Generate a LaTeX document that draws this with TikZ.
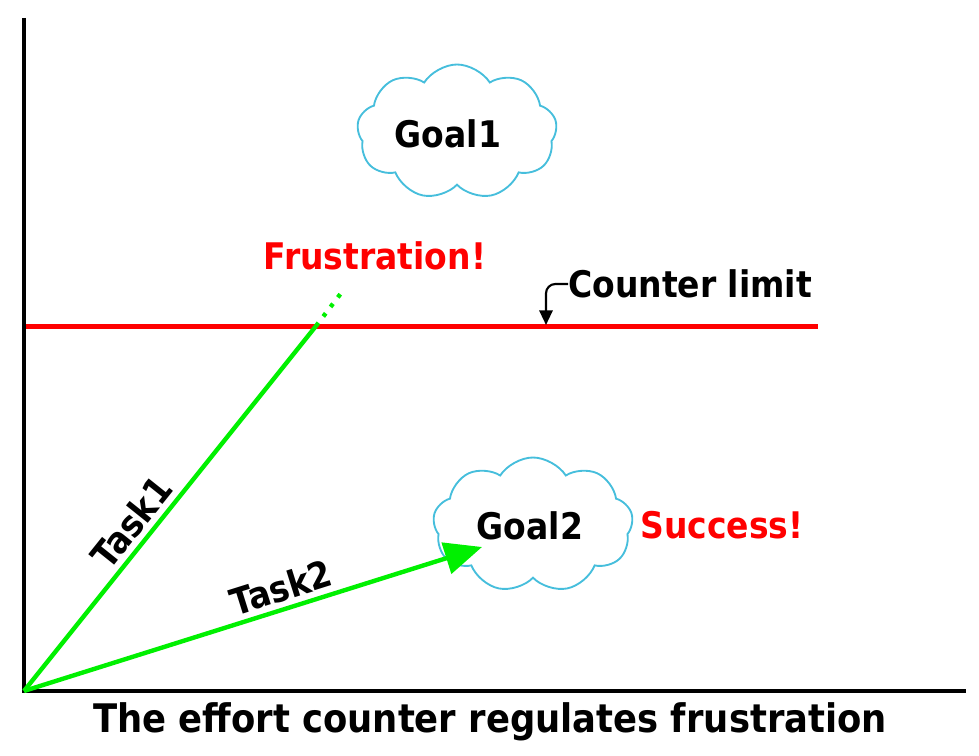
\documentclass[tikz,border=0pt]{standalone}
\usepackage{fontspec}
\setmainfont{DejaVu Sans Condensed}[BoldFont={DejaVu Sans Condensed Bold}]
\usetikzlibrary{shapes.symbols,arrows.meta}
\definecolor{cloudblue}{RGB}{70,190,220}
\definecolor{lgreen}{RGB}{0,240,0}
\definecolor{fred}{RGB}{255,0,0}
\tikzset{
  lbl/.style={inner sep=0pt, font=\bfseries\fontsize{27.5}{32}\selectfont},
  goalcloud/.style={cloud, cloud puffs=9, cloud puff arc=115, aspect=1.5, draw=cloudblue, line width=1.4pt, minimum width=200*0.75pt, minimum height=135*0.75pt, inner sep=0pt},
  task/.style={draw=lgreen, line width=3.3pt},
  axis/.style={draw=black, line width=2.4pt}
}
\begin{document}
\begin{tikzpicture}[x=0.75pt,y=-0.75pt]
\useasboundingbox (0,0) rectangle (979,756);
% axes
\coordinate (O) at (24,691);
\coordinate (ytop) at (24,18);
\coordinate (xend) at (966,691);
\draw[axis] (ytop) -- (O) -- (xend);
% counter limit line
\coordinate (limL) at (26,326.5);
\coordinate (limR) at (818,326.5);
\draw[draw=fred, line width=3.2pt] (limL) -- (limR);
% clouds
\node[goalcloud] (g1c) at (457,132) {};
\node[lbl] (g1) at (448,134) {Goal1};
\node[goalcloud] (g2c) at (533,525) {};
\node[lbl] (g2) at (530,526) {Goal2};
% tasks
\coordinate (t1end) at (316,326);
\coordinate (t1dot) at (345,288);
\draw[task] (O) -- node[lbl, sloped, above, pos=0.425, inner sep=4pt] (task1) {Task1} (t1end);
\draw[draw=lgreen, line width=3.3pt, dash pattern=on 3pt off 6pt] (t1end) -- (t1dot);
\coordinate (t2tip) at (482,547);
\draw[task, -{Triangle[length=28pt,width=24pt]}] (O) -- node[lbl, sloped, above, pos=0.575, inner sep=4pt] (task2) {Task2} (t2tip);
% labels
\node[lbl, text=fred] (frus) at (375,256) {Frustration!};
\node[lbl, text=fred] (succ) at (722,525) {Success!};
\node[lbl, anchor=west] (cl) at (568,284) {Counter limit};
\coordinate (clarr) at (546,325);
\draw[line width=1.6pt, rounded corners=7pt, -{Triangle[length=11pt,width=10pt]}] (cl.west) -| (clarr);
\node[inner sep=0pt, font=\bfseries\fontsize{29.5}{34}\selectfont] (cap) at (490,722) {The effort counter regulates frustration};
\end{tikzpicture}
\end{document}
